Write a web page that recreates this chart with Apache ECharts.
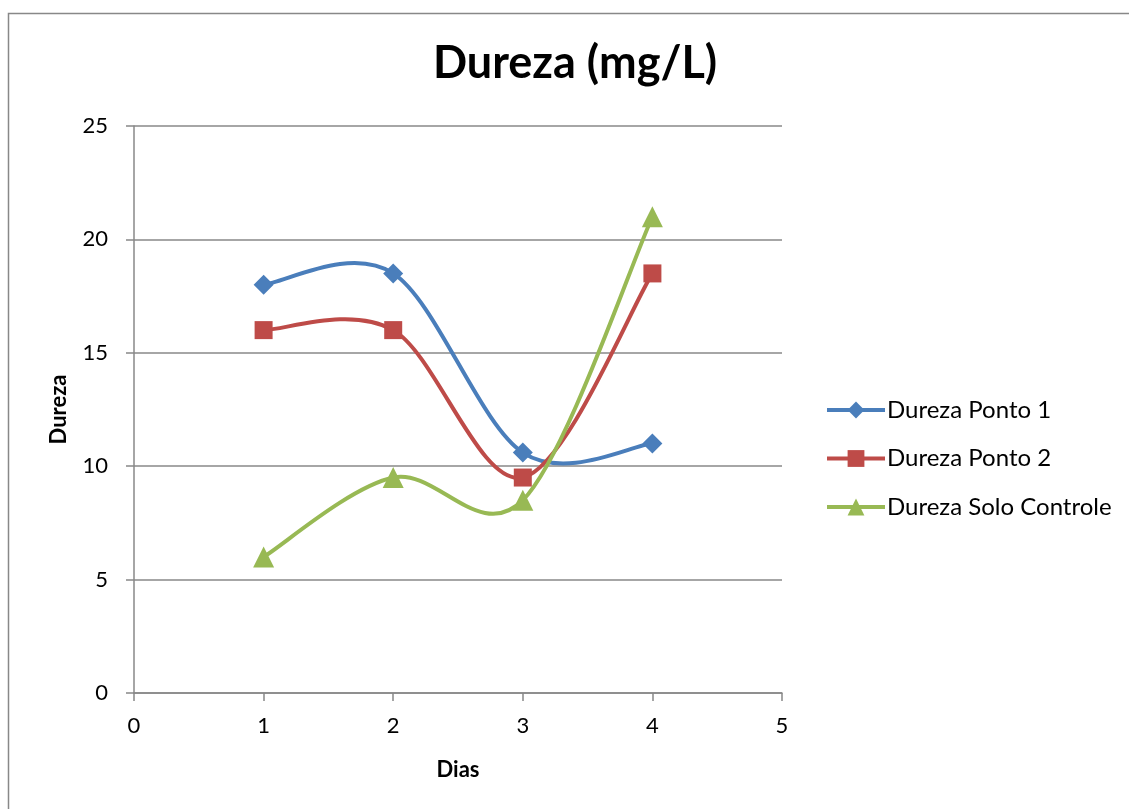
<!DOCTYPE html>
<html>
<head>
<meta charset="utf-8">
<script src="https://cdn.jsdelivr.net/npm/echarts@6/dist/echarts.min.js"></script>
<style>
  html, body { margin: 0; padding: 0; background: #fff; }
  #chart { width: 1129px; height: 809px; }
</style>
</head>
<body>
<div id="chart"></div>
<script>
/**
 * data
 */
var dias = [1, 2, 3, 4];
var ponto1 = [18, 18.5, 10.6, 11];
var ponto2 = [16, 16, 9.5, 18.5];
var soloControle = [6, 9.5, 8.5, 21];
var seriesNames = ['Dureza Ponto 1', 'Dureza Ponto 2', 'Dureza Solo Controle'];
var colors = ['#4a7ebb', '#be4b48', '#98b954'];

var font = 'Lato, "Open Sans", sans-serif';

function pairs(xs, ys) {
    var out = [];
    for (var i = 0; i < xs.length; i++) out.push([xs[i], ys[i]]);
    return out;
}

/**
 * smoothed curve like the spreadsheet one (catmull-rom through the points)
 */
function curveSeries(values, color) {
    var pts = pairs(dias, values);
    return {
        type: 'custom',
        data: pts,
        silent: true,
        renderItem: function(params, api) {
            var i = params.dataIndex;
            if (i >= pts.length - 1) return null;
            var p0 = api.coord(pts[Math.max(i - 1, 0)]);
            var p1 = api.coord(pts[i]);
            var p2 = api.coord(pts[i + 1]);
            var p3 = api.coord(pts[Math.min(i + 2, pts.length - 1)]);
            return {
                type: 'bezierCurve',
                shape: {
                    x1: p1[0], y1: p1[1],
                    x2: p2[0], y2: p2[1],
                    cpx1: p1[0] + (p2[0] - p0[0]) / 6,
                    cpy1: p1[1] + (p2[1] - p0[1]) / 6,
                    cpx2: p2[0] - (p3[0] - p1[0]) / 6,
                    cpy2: p2[1] - (p3[1] - p1[1]) / 6
                },
                style: { stroke: color, lineWidth: 4, fill: null, lineCap: 'round' }
            };
        }
    };
}

function markerSeries(name, values, color, symbol, size) {
    return {
        name: name,
        type: 'line',
        data: pairs(dias, values),
        symbol: symbol,
        symbolSize: size,
        lineStyle: { color: color, width: 4, opacity: 0 },
        itemStyle: { color: color },
        emphasis: { disabled: true }
    };
}

var chart = echarts.init(document.getElementById('chart'));
var option = {
    animation: false,
    textStyle: { fontFamily: font },
    title: {
        text: 'Dureza (mg/L)',
        left: 570,
        textAlign: 'center',
        top: 36,
        textStyle: { fontSize: 45, fontWeight: 'bold', color: '#000', fontFamily: font }
    },
    graphic: [{
        type: 'rect',
        shape: { x: 8.5, y: 13.5, width: 1140, height: 820 },
        style: { fill: 'none', stroke: '#888', lineWidth: 1.5 },
        silent: true
    }],
    legend: {
        orient: 'vertical',
        left: 820,
        top: 393,
        itemWidth: 58,
        itemHeight: 21,
        itemGap: 24.5,
        lineStyle: { opacity: 1, width: 4 },
        textStyle: { fontSize: 24, lineHeight: 21, color: '#000', fontFamily: font, padding: [0, 0, 0, -3] },
        data: seriesNames
    },
    grid: { left: 134, right: 347, top: 126, bottom: 116 },
    xAxis: {
        type: 'value',
        min: 0, max: 5, interval: 1,
        name: 'Dias',
        nameLocation: 'middle',
        nameGap: 66,
        nameTextStyle: { fontSize: 22, fontWeight: 'bold', color: '#000' },
        axisLine: { show: true, lineStyle: { color: '#888', width: 1.5 } },
        axisTick: { show: true, length: 8, lineStyle: { color: '#888', width: 1.5 } },
        axisLabel: { fontSize: 22, color: '#000', margin: 22 },
        splitLine: { show: false }
    },
    yAxis: {
        type: 'value',
        min: 0, max: 25, interval: 5,
        name: 'Dureza',
        nameLocation: 'middle',
        nameGap: 64,
        nameTextStyle: { fontSize: 22, fontWeight: 'bold', color: '#000' },
        axisLine: { show: true, lineStyle: { color: '#888', width: 1.5 } },
        axisTick: { show: true, length: 8, lineStyle: { color: '#888', width: 1.5 } },
        axisLabel: { fontSize: 22, color: '#000', margin: 26 },
        splitLine: { show: true, lineStyle: { color: '#888', width: 1.5 } }
    },
    series: [
        curveSeries(ponto1, colors[0]),
        markerSeries(seriesNames[0], ponto1, colors[0], 'diamond', 20),
        curveSeries(ponto2, colors[1]),
        markerSeries(seriesNames[1], ponto2, colors[1], 'rect', 18),
        curveSeries(soloControle, colors[2]),
        markerSeries(seriesNames[2], soloControle, colors[2], 'triangle', 21)
    ]
};
chart.setOption(option);
</script>
</body>
</html>
